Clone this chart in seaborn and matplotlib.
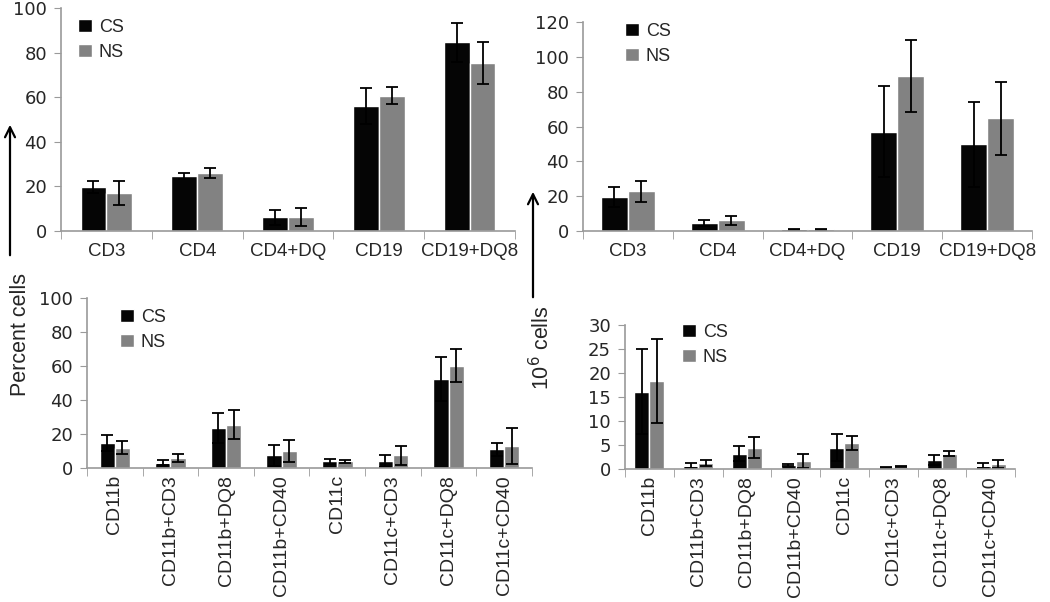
import numpy as np
import pandas as pd
import matplotlib
matplotlib.use("Agg")
import matplotlib.pyplot as plt
import seaborn as sns

# Datos
grupos = ["CS", "NS"]

cat_sup = ["CD3", "CD4", "CD4+DQ", "CD19", "CD19+DQ8"]
pct_sup_cs = [19.8, 24.6, 6.1, 56.1, 84.7]
pct_sup_ns = [17.1, 26.0, 6.1, 60.7, 75.3]
pct_sup_cs_err = [2.7, 1.4, 3.5, 8.1, 8.7]
pct_sup_ns_err = [5.5, 2.3, 4.0, 3.7, 9.6]

num_sup_cs = [19.4, 4.6, 1.0, 57.0, 49.9]
num_sup_ns = [22.8, 6.1, 1.0, 89.1, 64.7]
num_sup_cs_err = [5.9, 1.5, 0.2, 26.0, 24.4]
num_sup_ns_err = [5.9, 2.4, 0.2, 20.5, 21.0]

cat_inf = ["CD11b", "CD11b+CD3", "CD11b+DQ8", "CD11b+CD40",
           "CD11c", "CD11c+CD3", "CD11c+DQ8", "CD11c+CD40"]
pct_inf_cs = [14.7, 3.1, 23.7, 7.5, 3.9, 3.9, 52.4, 11.0]
pct_inf_ns = [12.0, 5.9, 25.5, 10.0, 3.9, 7.5, 60.2, 12.9]
pct_inf_cs_err = [4.5, 1.6, 8.7, 6.2, 1.6, 3.6, 13.0, 3.7]
pct_inf_ns_err = [4.0, 2.4, 8.5, 6.3, 0.8, 5.5, 9.6, 10.8]

num_inf_cs = [16.1, 0.7, 3.2, 0.8, 4.4, 0.3, 1.9, 0.7]
num_inf_ns = [18.3, 1.25, 4.4, 1.7, 5.4, 0.5, 3.2, 1.0]
num_inf_cs_err = [8.8, 0.55, 1.6, 0.2, 2.8, 0.05, 1.0, 0.55]
num_inf_ns_err = [8.7, 0.55, 2.2, 1.5, 1.5, 0.1, 0.55, 0.8]

sns.set_style("white")
plt.rcParams["font.family"] = ["Liberation Sans", "DejaVu Sans"]

W, H = 1050, 602
fig = plt.figure(figsize=(W / 100, H / 100), dpi=100)


def caja(izq, der, arriba, abajo):
    return [izq / W, (H - abajo) / H, (der - izq) / W, (abajo - arriba) / H]


def panel(pos, cats, cs, ns, cs_err, ns_err, ymax, paso, ancho, rot, xsize, xpad, leg_xy):
    ax = fig.add_axes(caja(*pos))
    df = pd.DataFrame({
        "cat": cats * 2,
        "valor": cs + ns,
        "grupo": ["CS"] * len(cats) + ["NS"] * len(cats),
    })
    sns.barplot(data=df, x="cat", y="valor", hue="grupo", order=cats,
                hue_order=grupos, palette={"CS": "#050505", "NS": "#828282"},
                width=ancho, errorbar=None, saturation=1, ax=ax)
    # barras de error dibujadas sobre cada barra
    for cont, err in zip(ax.containers, [cs_err, ns_err]):
        xs = [b.get_x() + b.get_width() / 2 for b in cont]
        ys = [b.get_height() for b in cont]
        ax.errorbar(xs, ys, yerr=err, fmt="none", ecolor="black",
                    elinewidth=1.3, capsize=4, capthick=1.3)
    n = len(cats)
    ax.set_xlim(-0.5, n - 0.5)
    ax.set_ylim(0, ymax)
    ax.set_yticks(np.arange(0, ymax + 1, paso))
    ax.set_xticks(np.arange(-0.5, n, 1.0), minor=True)
    ax.tick_params(axis="x", which="major", length=0, pad=xpad, labelsize=xsize,
                   rotation=rot)
    ax.tick_params(axis="x", which="minor", length=6, color="#9a9a9a",
                   direction="out", bottom=True)
    ax.tick_params(axis="y", length=5, color="#9a9a9a", direction="out",
                   left=True, labelsize=13, pad=5)
    for lab in ax.get_yticklabels():
        lab.set_fontfamily("DejaVu Sans")
    sns.despine(ax=ax)
    for s in ["left", "bottom"]:
        ax.spines[s].set_color("#9a9a9a")
        ax.spines[s].set_linewidth(1.2)
    ax.set_xlabel("")
    ax.set_ylabel("")
    ax.legend(loc="upper left", bbox_to_anchor=(leg_xy[0] / W, 1 - leg_xy[1] / H),
              bbox_transform=fig.transFigure, frameon=False, fontsize=13,
              handlelength=0.75, handleheight=0.75, handletextpad=0.4,
              labelspacing=0.45, borderpad=0)
    return ax


panel((61, 515, 8, 231), cat_sup, pct_sup_cs, pct_sup_ns,
      pct_sup_cs_err, pct_sup_ns_err, 100, 20, 0.57, 0, 13.5, 9, (69, 10))
panel((583, 1032, 22, 231), cat_sup, num_sup_cs, num_sup_ns,
      num_sup_cs_err, num_sup_ns_err, 120, 20, 0.6, 0, 13.5, 9, (616, 14))
panel((87, 532, 298, 468), cat_inf, pct_inf_cs, pct_inf_ns,
      pct_inf_cs_err, pct_inf_ns_err, 100, 20, 0.55, 90, 14, 5, (111, 300))
panel((625, 1015, 325, 469), cat_inf, num_inf_cs, num_inf_ns,
      num_inf_cs_err, num_inf_ns_err, 30, 5, 0.62, 90, 14, 5, (673, 315))

# Flechas y títulos de eje compartidos
fig.patches.append(matplotlib.patches.FancyArrowPatch(
    (10 / W, 1 - 258 / H), (10 / W, 1 - 122 / H), transform=fig.transFigure,
    arrowstyle="->", mutation_scale=18, lw=1.6, color="black"))
fig.patches.append(matplotlib.patches.FancyArrowPatch(
    (533 / W, 1 - 300 / H), (533 / W, 1 - 189 / H), transform=fig.transFigure,
    arrowstyle="->", mutation_scale=18, lw=1.6, color="black"))
fig.text(20 / W, 1 - 335 / H, "Percent cells", rotation=90, fontsize=15.5,
         ha="center", va="center")
fig.text(542 / W, 1 - 348 / H, "10$^6$ cells", rotation=90, fontsize=15.5,
         ha="center", va="center")

fig.savefig("out.png", dpi=100)
